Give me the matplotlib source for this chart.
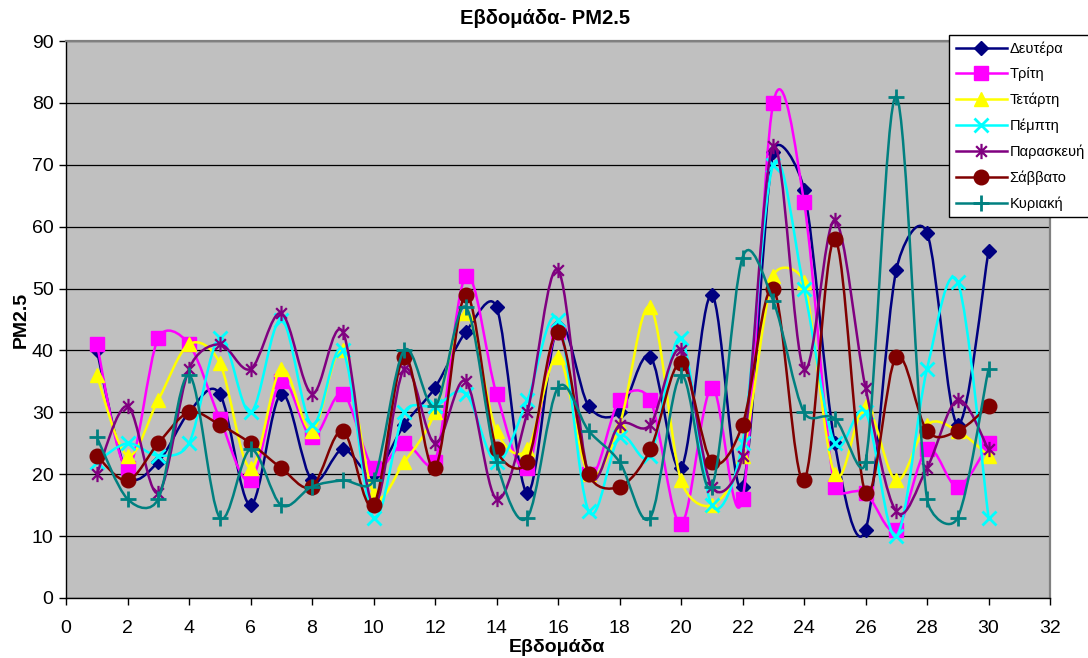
import numpy as np
import matplotlib
matplotlib.use('Agg')
import matplotlib.pyplot as plt
from matplotlib.path import Path
from matplotlib.patches import PathPatch
from matplotlib.lines import Line2D

plt.rcParams['font.family'] = ['Liberation Sans', 'DejaVu Sans']

weeks = list(range(1, 31))

days = ['Δευτέρα', 'Τρίτη', 'Τετάρτη', 'Πέμπτη', 'Παρασκευή', 'Σάββατο', 'Κυριακή']

monday = [40, 20, 22, 30, 33, 15, 33, 19, 24, 20, 28, 34, 43, 47, 17,
          44, 31, 30, 39, 21, 49, 18, 72, 66, 25, 11, 53, 59, 28, 56]
tuesday = [41, 21, 42, 41, 29, 19, 35, 26, 33, 21, 25, 22, 52, 33, 21,
           43, 20, 32, 32, 12, 34, 16, 80, 64, 18, 17, 11, 24, 18, 25]
wednesday = [36, 23, 32, 41, 38, 21, 37, 27, 40, 17, 22, 30, 46, 27, 24,
             39, 20, 28, 47, 19, 15, 23, 52, 51, 20, 31, 19, 28, 27, 23]
thursday = [22, 25, 23, 25, 42, 30, 45, 28, 40, 13, 30, 31, 33, 22, 32,
            45, 14, 26, 23, 42, 15, 25, 70, 50, 25, 30, 10, 37, 51, 13]
friday = [20, 31, 17, 37, 41, 37, 46, 33, 43, 15, 37, 25, 35, 16, 30,
          53, 20, 28, 28, 40, 18, 23, 73, 37, 61, 34, 14, 21, 32, 24]
saturday = [23, 19, 25, 30, 28, 25, 21, 18, 27, 15, 39, 21, 49, 24, 22,
            43, 20, 18, 24, 38, 22, 28, 50, 19, 58, 17, 39, 27, 27, 31]
sunday = [26, 16, 16, 36, 13, 24, 15, 18, 19, 19, 40, 31, 47, 22, 13,
          34, 27, 22, 13, 36, 18, 55, 48, 30, 29, 22, 81, 16, 13, 37]

series = [monday, tuesday, wednesday, thursday, friday, saturday, sunday]

colors = ['#000080', '#FF00FF', '#FFFF00', '#00FFFF', '#800080', '#800000', '#008080']

# asterisk marker: vertical stroke plus an X
star = Path([(0, -1), (0, 1), (-0.7, -0.7), (0.7, 0.7), (-0.7, 0.7), (0.7, -0.7)],
            [Path.MOVETO, Path.LINETO] * 3)

marker_styles = [
    dict(marker='D', markersize=7.5),
    dict(marker='s', markersize=9.5),
    dict(marker='^', markersize=10),
    dict(marker='x', markersize=10, markeredgewidth=2),
    dict(marker=star, markersize=11, markeredgewidth=1.6),
    dict(marker='o', markersize=10.5),
    dict(marker='+', markersize=11, markeredgewidth=2),
]


def smooth_path(x, y, sx, sy):
    # Bezier pieces with Catmull-Rom tangents; each control arm is capped
    # at half its segment length (distances measured in pixels via sx, sy)
    pts = np.column_stack([x, y]).astype(float)
    scale = np.array([sx, sy])
    dist = lambda a, b: np.hypot(*((b - a) * scale))
    n = len(pts)
    verts = [pts[0]]
    codes = [Path.MOVETO]
    for i in range(n - 1):
        p0 = pts[i - 1] if i > 0 else pts[i]
        p1 = pts[i]
        p2 = pts[i + 1]
        p3 = pts[i + 2] if i + 2 < n else pts[i + 1]
        d12 = dist(p1, p2)
        d02 = dist(p0, p2)
        d13 = dist(p1, p3)
        f1 = f2 = 1 / 6
        if d02 > 0 and d02 / 6 > d12 / 2:
            f1 = d12 / d02 / 2
        if d13 > 0 and d13 / 6 > d12 / 2:
            f2 = d12 / d13 / 2
        verts += [p1 + (p2 - p0) * f1, p2 - (p3 - p1) * f2, p2]
        codes += [Path.CURVE4] * 3
    return Path(verts, codes)


fig = plt.figure(figsize=(10.88, 6.58), dpi=100)
ax = fig.add_axes([66 / 1088, 1 - 598 / 658, 984 / 1088, 557 / 658])
ax.set_facecolor('#C0C0C0')
ax.set_xlim(0, 32)
ax.set_ylim(0, 90)

px_x = 984 / 32
px_y = 557 / 90

handles = []
for i, (name, vals, c, ms) in enumerate(zip(days, series, colors, marker_styles)):
    z = 3 + i
    ax.add_patch(PathPatch(smooth_path(weeks, vals, px_x, px_y), facecolor='none',
                           edgecolor=c, linewidth=1.8, zorder=z))
    ax.plot(weeks, vals, linestyle='none', color=c, markerfacecolor=c,
            markeredgecolor=c, zorder=z + 0.5, **ms)
    handles.append(Line2D([], [], color=c, linewidth=1.8, markerfacecolor=c,
                          markeredgecolor=c, label=name, **ms))

ax.set_xticks(range(0, 33, 2))
ax.set_yticks(range(0, 91, 10))
ax.grid(axis='y', color='black', linewidth=0.9, zorder=1)
ax.set_axisbelow(True)
ax.tick_params(labelsize=14, length=5, width=1, direction='out', pad=4)
ax.tick_params(axis='x', pad=11)
for side in ['left', 'bottom']:
    ax.spines[side].set_color('black')
    ax.spines[side].set_linewidth(1)
for side in ['top', 'right']:
    ax.spines[side].set_color('#808080')
    ax.spines[side].set_linewidth(1.6)

fig.text(545 / 1088, 1 - 18 / 658, 'Εβδομάδα- PM2.5', ha='center', va='center',
         fontsize=14.5, fontweight='bold')
fig.text(557 / 1088, 1 - 647 / 658, 'Εβδομάδα', ha='center', va='center',
         fontsize=14, fontweight='bold')
fig.text(21 / 1088, 1 - 320 / 658, 'PM2.5', ha='center', va='center',
         rotation=90, fontsize=14, fontweight='bold')

leg = fig.legend(handles=handles, loc='upper left',
                 bbox_to_anchor=(949 / 1088, 1 - 35 / 658), fontsize=10.5,
                 frameon=True, fancybox=False, shadow=False, handlelength=3.5,
                 handletextpad=0.2, labelspacing=0.78, borderpad=0.45,
                 borderaxespad=0)
leg.get_frame().set_edgecolor('black')
leg.get_frame().set_linewidth(1)
leg.get_frame().set_facecolor('white')
leg.get_frame().set_alpha(1)

fig.savefig('out.png', dpi=100)
